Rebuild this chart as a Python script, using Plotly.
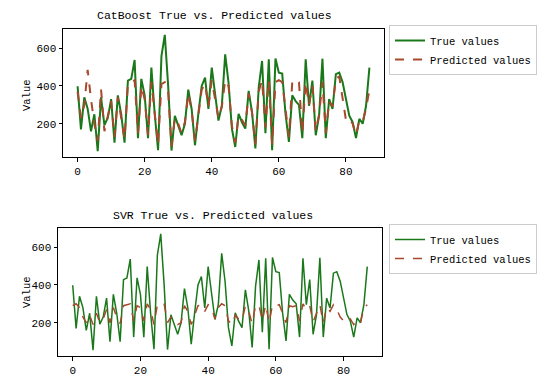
import plotly.graph_objects as go

x_idx = list(range(88))

true_vals = [398, 170, 340, 280, 160, 250, 55, 340, 193, 230,
             330, 100, 350, 250, 100, 428, 437, 537, 124, 437,
             350, 124, 497, 250, 60, 558, 670, 400, 58, 242,
             190, 139, 200, 380, 278, 86, 252, 400, 444, 278,
             497, 350, 217, 295, 567, 418, 174, 77, 252, 208,
             174, 374, 261, 69, 392, 532, 150, 541, 60, 545,
             470, 465, 250, 104, 350, 320, 300, 124, 541, 295,
             428, 139, 243, 544, 124, 330, 278, 462, 470, 420,
             330, 243, 208, 124, 226, 200, 295, 497]

catboost_pred = [370, 230, 300, 485, 330, 200, 110, 380, 160, 250,
                 320, 130, 340, 230, 120, 410, 420, 430, 150, 400,
                 330, 140, 420, 260, 90, 410, 420, 370, 80, 230,
                 200, 150, 210, 360, 270, 110, 250, 380, 410, 290,
                 430, 340, 230, 290, 430, 400, 190, 100, 240, 220,
                 190, 360, 260, 90, 370, 430, 180, 430, 90, 420,
                 430, 420, 260, 130, 420, 435, 420, 150, 420, 300,
                 400, 160, 250, 420, 150, 320, 290, 440, 450, 330,
                 220, 230, 200, 140, 220, 210, 280, 380]

svr_pred = [290, 300, 280, 230, 200, 240, 190, 250, 200, 220,
            270, 200, 280, 230, 195, 290, 295, 300, 210, 290,
            280, 210, 300, 270, 190, 295, 290, 300, 200, 230,
            210, 190, 200, 290, 260, 190, 240, 290, 295, 260,
            295, 280, 220, 280, 300, 290, 210, 190, 240, 220,
            210, 290, 260, 195, 290, 295, 210, 295, 200, 295,
            290, 295, 250, 200, 290, 285, 290, 210, 300, 270,
            290, 205, 250, 295, 200, 280, 260, 295, 270, 230,
            210, 200, 220, 190, 215, 200, 280, 295]

x_ticks = [0, 20, 40, 60, 80]
y_ticks = [200, 400, 600]
titles = ["CatBoost True vs. Predicted values", "SVR True vs. Predicted values"]

W, H = 550, 384
GREEN = "#1a781a"
PRED = "#a8482c"
FONT = "Liberation Mono"

fig = go.Figure()

fig.add_trace(go.Scatter(x=x_idx, y=true_vals, mode="lines", name="True values",
                         line=dict(color=GREEN, width=2), xaxis="x", yaxis="y",
                         legend="legend"))
fig.add_trace(go.Scatter(x=x_idx, y=catboost_pred, mode="lines", name="Predicted values",
                         line=dict(color=PRED, width=2, dash="dash"), xaxis="x", yaxis="y",
                         legend="legend"))
fig.add_trace(go.Scatter(x=x_idx, y=true_vals, mode="lines", name="True values",
                         line=dict(color=GREEN, width=1.5), xaxis="x2", yaxis="y2",
                         legend="legend2"))
fig.add_trace(go.Scatter(x=x_idx, y=svr_pred, mode="lines", name="Predicted values",
                         line=dict(color=PRED, width=1.5, dash="dash"), xaxis="x2", yaxis="y2",
                         legend="legend2"))

def px_x(p):
    return p / W

def px_y(p):
    return 1 - p / H

top = dict(x0=63, x1=384, y0=29, y1=157)
bot = dict(x0=58, x1=382, y0=228, y1=356)

xr = [-4.35, 91.35]
yr = [24, 701]

axis_common = dict(showgrid=False, zeroline=False, showline=True, linecolor="black",
                   linewidth=1, mirror=True, ticks="outside", ticklen=3.5,
                   tickcolor="black", tickfont=dict(family=FONT, size=11, color="black"))

legend_common = dict(bgcolor="white", bordercolor="#cccccc", borderwidth=1,
                     font=dict(family=FONT, size=10.5, color="black"),
                     xanchor="left", yanchor="top", tracegroupgap=0, itemwidth=30)

fig.update_layout(
    width=W, height=H, margin=dict(l=0, r=0, t=0, b=0),
    paper_bgcolor="white", plot_bgcolor="white",
    xaxis=dict(domain=[px_x(top["x0"]), px_x(top["x1"])], range=xr, tickvals=x_ticks,
               anchor="y", **axis_common),
    yaxis=dict(domain=[px_y(top["y1"]), px_y(top["y0"])], range=yr, tickvals=y_ticks,
               anchor="x", **axis_common),
    xaxis2=dict(domain=[px_x(bot["x0"]), px_x(bot["x1"])], range=xr, tickvals=x_ticks,
                anchor="y2", **axis_common),
    yaxis2=dict(domain=[px_y(bot["y1"]), px_y(bot["y0"])], range=yr, tickvals=y_ticks,
                anchor="x2", **axis_common),
    legend=dict(x=px_x(389), y=px_y(25), **legend_common),
    legend2=dict(x=px_x(389), y=px_y(224), **legend_common),
    showlegend=True,
)

ann_font_t = dict(family=FONT, size=11.5, color="black")
ann_font_l = dict(family=FONT, size=10.5, color="black")
annotations = [
    dict(text=titles[0], x=px_x(214), y=px_y(16), font=ann_font_t),
    dict(text=titles[1], x=px_x(213), y=px_y(215), font=ann_font_t),
    dict(text="Value", x=px_x(27), y=px_y(95), textangle=-90, font=ann_font_l),
    dict(text="Value", x=px_x(27), y=px_y(292), textangle=-90, font=ann_font_l),
]
for a in annotations:
    a.update(xref="paper", yref="paper", showarrow=False, xanchor="center", yanchor="middle")
fig.update_layout(annotations=annotations)

fig.write_html("out.html", config={"displayModeBar": False},
               post_script="document.body.style.margin='0';")
